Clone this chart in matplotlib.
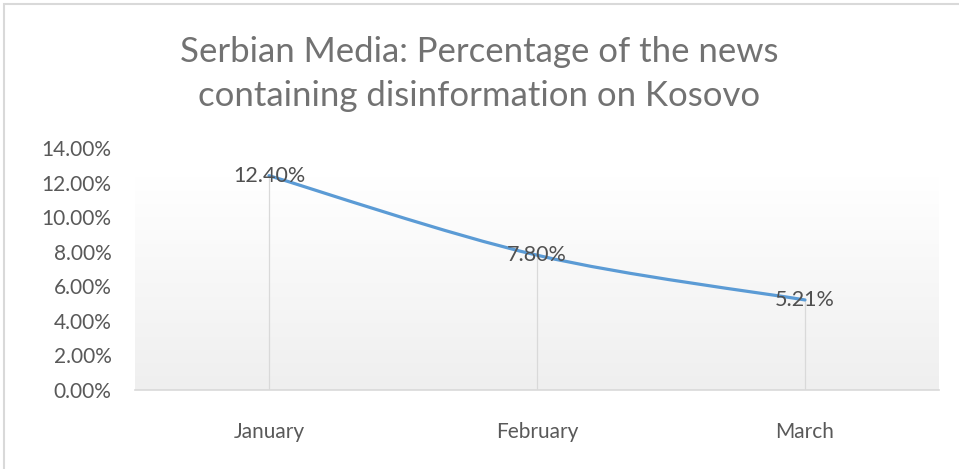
import numpy as np
import matplotlib.pyplot as plt
from matplotlib.path import Path
from matplotlib.patches import PathPatch, Rectangle
from matplotlib.ticker import FuncFormatter

months = ['January', 'February', 'March']
share = [12.40, 7.80, 5.21]  # percent of news with disinformation
labels = ['12.40%', '7.80%', '5.21%']
title = 'Serbian Media: Percentage of the news\ncontaining disinformation on Kosovo'

plt.rcParams['font.family'] = ['Lato', 'DejaVu Sans']

fig = plt.figure(figsize=(9.59, 4.69), dpi=100)
fig.patches.append(Rectangle((4 / 959, -0.05), 1.1, 1 - 4 / 469 + 0.05,
                             transform=fig.transFigure, fill=False,
                             edgecolor='#d9d9d9', linewidth=1.5))

ax = fig.add_axes([135 / 959, 1 - 390 / 469, 804 / 959, 242 / 469])
x = np.arange(len(months))
ax.set_xlim(-0.5, len(months) - 0.5)
ax.set_ylim(0, 14)

# plot area gradient (white at top, light gray at bottom)
grad = np.linspace(1, 0, 256).reshape(-1, 1)
ax.imshow(grad, cmap=plt.matplotlib.colors.LinearSegmentedColormap.from_list(
    'g', ['#efefef', '#ffffff']), aspect='auto',
    extent=[0, 1, 0, 0.88], transform=ax.transAxes, zorder=0)

# drop lines
ax.vlines(x, 0, share, color='#d9d9d9', linewidth=0.9, zorder=1)

# smoothed line through the points (cubic bezier segments)
pts = np.column_stack([x, share]).astype(float)
ext = np.vstack([pts[0], pts, pts[-1]])
verts = [tuple(pts[0])]
codes = [Path.MOVETO]
for i in range(len(pts) - 1):
    p0, p1, p2, p3 = ext[i], ext[i + 1], ext[i + 2], ext[i + 3]
    c1 = p1 + (p2 - p0) / 6
    c2 = p2 - (p3 - p1) / 6
    verts += [tuple(c1), tuple(c2), tuple(p2)]
    codes += [Path.CURVE4] * 3
ax.add_patch(PathPatch(Path(verts, codes), facecolor='none',
                       edgecolor='#5b9bd5', linewidth=2.3,
                       capstyle='round', zorder=3))

for xi, yi, lab in zip(x, share, labels):
    ax.text(xi, yi, lab, ha='center', va='center', fontsize=15.5,
            color='#505050', zorder=4)

ax.set_xticks(x)
ax.set_xticklabels(months)
ax.set_yticks(np.arange(0, 15, 2))
ax.yaxis.set_major_formatter(FuncFormatter(lambda v, p: '%.2f%%' % v))
ax.tick_params(length=0, labelsize=15, labelcolor='#595959')
ax.tick_params(axis='x', pad=23)
ax.tick_params(axis='y', pad=17)
for s in ['top', 'right', 'left']:
    ax.spines[s].set_visible(False)
ax.spines['bottom'].set_color('#d9d9d9')
ax.spines['bottom'].set_linewidth(1.2)
ax.patch.set_alpha(0)

fig.text(0.5, 1 - 74 / 469, title, ha='center', va='center', fontsize=25,
         color='#727272', linespacing=1.45)

fig.savefig('out.png', dpi=100)
